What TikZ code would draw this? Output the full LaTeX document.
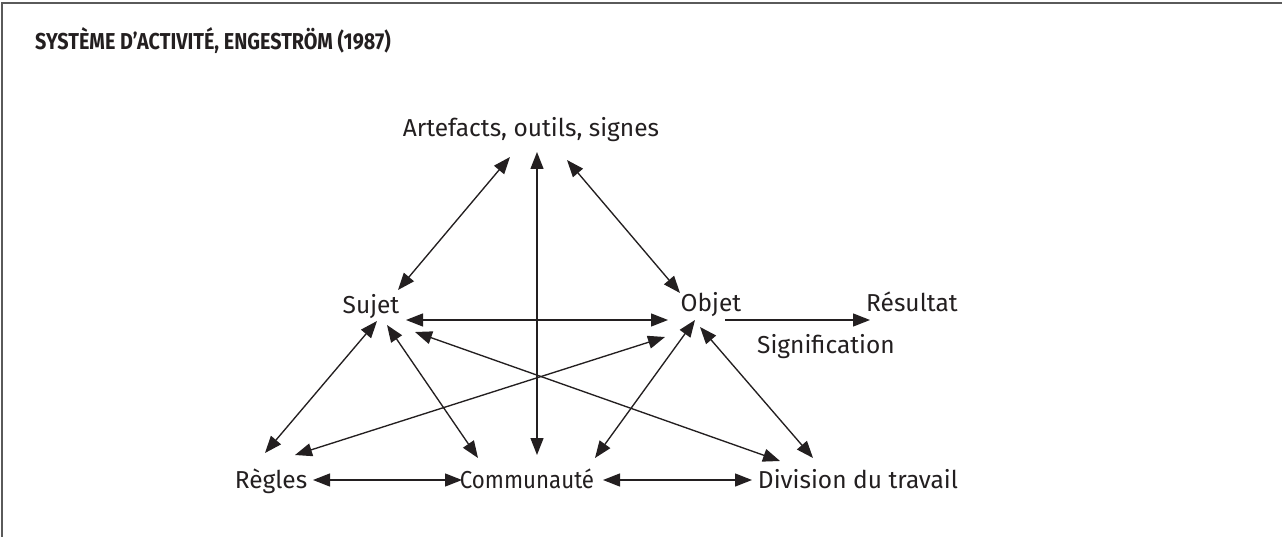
\documentclass[tikz,border=0pt]{standalone}
\usepackage{fontspec}
\setmainfont{Fira Sans}
\newfontfamily\titlefont[FakeStretch=0.86]{Fira Sans}
\newfontfamily\narrowfont[FakeStretch=0.91]{Fira Sans}
\usetikzlibrary{arrows.meta}
\definecolor{ink}{HTML}{231F20}
\definecolor{framegray}{HTML}{5A5A5A}
\tikzset{
  lbl/.style={anchor=base, inner sep=0pt, text=ink, font=\fontsize{24.5}{28}\selectfont},
  nlbl/.style={lbl, font=\narrowfont\fontsize{24.5}{28}\selectfont},
  ttl/.style={anchor=base west, inner sep=0pt, text=ink, font=\titlefont\fontsize{23}{26}\selectfont\bfseries},
  dbl/.style={draw=ink, line width=1.35pt, {Triangle[length=17pt,width=13pt]}-{Triangle[length=17pt,width=13pt]}},
  sgl/.style={draw=ink, line width=1.35pt, -{Triangle[length=17pt,width=13pt]}},
}
\begin{document}
\begin{tikzpicture}[x=1pt,y=-1pt]
\useasboundingbox (0,0) rectangle (1282,537);
\draw[framegray, line width=2pt] (2,537) -- (2,3) -- (1282,3);
\node[ttl] (title) at (35,49.5) {SYSTÈME D’ACTIVITÉ, ENGESTRÖM (1987)};
\node[lbl] (art) at (531,137) {Artefacts, outils, signes};
\node[lbl] (suj) at (371,313) {Sujet};
\node[lbl] (obj) at (711,312) {Objet};
\node[lbl] (res) at (912,312) {Résultat};
\node[lbl] (sig) at (826,353) {Signification};
\node[lbl] (reg) at (271,488) {Règles};
\node[nlbl] (com) at (527,488) {Communauté};
\node[lbl] (div) at (858,488) {Division du travail};
% triangle
\draw[dbl] ([shift={(27,-23)}]suj.base) -- ([shift={(-21,20)}]art.base);
\draw[dbl] ([shift={(36,23)}]art.base) -- ([shift={(-31,-19)}]obj.base);
\draw[dbl] ([shift={(6,15)}]art.base) -- ([shift={(10,-33)}]com.base);
\draw[dbl] ([shift={(35,7)}]suj.base) -- ([shift={(-43,8)}]obj.base);
\draw[sgl] ([shift={(14,8)}]obj.base) -- ([shift={(-42,8)}]res.base);
\draw[dbl] ([shift={(6,8)}]suj.base) -- ([shift={(-6,-35)}]reg.base);
\draw[dbl] ([shift={(16,12)}]suj.base) -- ([shift={(-49,-30)}]com.base);
\draw[dbl] ([shift={(44,19)}]suj.base) -- ([shift={(-78,-27)}]div.base);
\draw[dbl] ([shift={(-46,25)}]obj.base) -- ([shift={(24,-33)}]reg.base);
\draw[dbl] ([shift={(-16,8)}]obj.base) -- ([shift={(68,-30)}]com.base);
\draw[dbl] ([shift={(-11,15)}]obj.base) -- ([shift={(-45,-30)}]div.base);
\draw[dbl] ([shift={(42,-8)}]reg.base) -- ([shift={(-65,-8)}]com.base);
\draw[dbl] ([shift={(76,-8)}]com.base) -- ([shift={(-106,-8)}]div.base);
\end{tikzpicture}
\end{document}
